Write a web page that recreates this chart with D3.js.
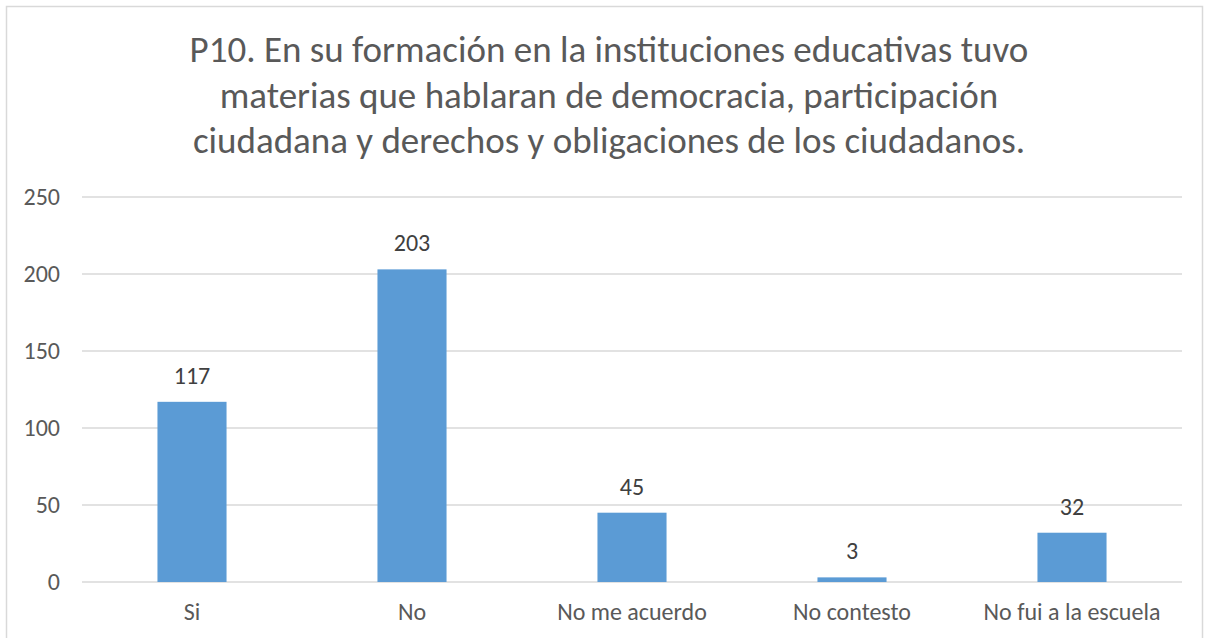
<!DOCTYPE html>
<html>
<head>
<meta charset="utf-8">
<script src="https://cdn.jsdelivr.net/npm/d3@7"></script>
<style>
  html, body { margin: 0; padding: 0; background: #fff; }
  svg { display: block; }
</style>
</head>
<body>
<svg id="chart" width="1209" height="638"></svg>
<script>
// data
var categories = ['Si', 'No', 'No me acuerdo', 'No contesto', 'No fui a la escuela']
var values = [117, 203, 45, 3, 32]
var yTicks = [0, 50, 100, 150, 200, 250]
var titleLines = [
  'P10. En su formación en la instituciones educativas tuvo',
  'materias que hablaran de democracia, participación',
  'ciudadana y derechos y obligaciones de los ciudadanos.'
]

// config
var width = 1209, height = 638
var fontFamily = 'Carlito, Calibri, "Liberation Sans", sans-serif'
var colorBar = '#5b9bd5'
var colorText = '#595959'
var colorGrid = '#d9d9d9'
var plot = { left: 82, right: 1182, top: 197, bottom: 582 }

var svg = d3.select('#chart')

// chart area border
svg.append('rect')
  .attr('x', 6.5).attr('y', 6.5)
  .attr('width', 1196).attr('height', 640)
  .attr('fill', '#fff')
  .attr('stroke', colorGrid)
  .attr('stroke-width', 1.5)

var x = d3.scaleBand()
  .domain(categories)
  .range([plot.left, plot.right])
  .paddingInner(0.686)
  .paddingOuter(0.343)

var y = d3.scaleLinear()
  .domain([0, 250])
  .range([plot.bottom, plot.top])

// title
svg.append('g')
  .selectAll('text')
  .data(titleLines)
  .join('text')
  .attr('x', 609)
  .attr('y', function (d, i) { return 62 + i * 45.5 })
  .attr('text-anchor', 'middle')
  .attr('fill', colorText)
  .style('font-family', fontFamily)
  .style('font-size', '37px')
  .text(function (d) { return d })

// gridlines
svg.append('g')
  .selectAll('line')
  .data(yTicks)
  .join('line')
  .attr('x1', plot.left).attr('x2', plot.right)
  .attr('y1', function (d) { return y(d) })
  .attr('y2', function (d) { return y(d) })
  .attr('stroke', colorGrid)
  .attr('stroke-width', 1.5)

// y axis labels
var yAxis = d3.axisLeft(y).tickValues(yTicks).tickSize(0).tickPadding(22)
svg.append('g')
  .attr('transform', 'translate(' + plot.left + ',0)')
  .call(yAxis)
  .call(function (g) { g.select('.domain').remove() })
  .selectAll('text')
  .attr('fill', colorText)
  .style('font-family', fontFamily)
  .style('font-size', '24px')

// bars
svg.append('g')
  .selectAll('rect')
  .data(values)
  .join('rect')
  .attr('x', function (d, i) { return x(categories[i]) })
  .attr('y', function (d) { return y(d) })
  .attr('width', x.bandwidth())
  .attr('height', function (d) { return y(0) - y(d) })
  .attr('fill', colorBar)

// value labels
svg.append('g')
  .selectAll('text')
  .data(values)
  .join('text')
  .attr('x', function (d, i) { return x(categories[i]) + x.bandwidth() / 2 })
  .attr('y', function (d) { return y(d) - 18 })
  .attr('text-anchor', 'middle')
  .attr('fill', '#404040')
  .style('font-family', fontFamily)
  .style('font-size', '24px')
  .text(function (d) { return d })

// x axis labels
var xAxis = d3.axisBottom(x).tickSize(0).tickPadding(21)
svg.append('g')
  .attr('transform', 'translate(0,' + plot.bottom + ')')
  .call(xAxis)
  .call(function (g) { g.select('.domain').remove() })
  .selectAll('text')
  .attr('fill', colorText)
  .style('font-family', fontFamily)
  .style('font-size', '24px')
</script>
</body>
</html>
